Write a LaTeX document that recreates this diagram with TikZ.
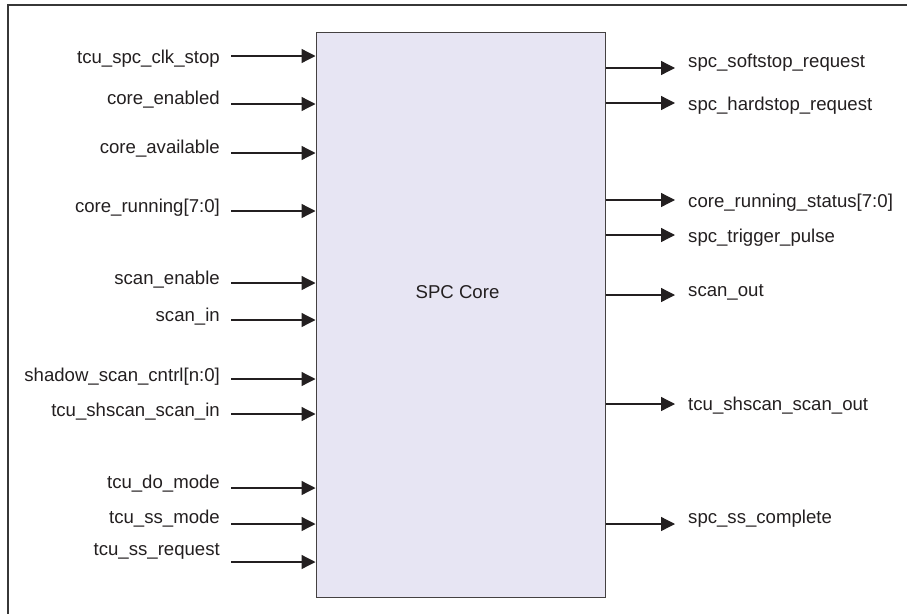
\documentclass[tikz,border=0pt]{standalone}
\usepackage{fontspec}
\setmainfont{Liberation Sans}
\usetikzlibrary{arrows.meta,positioning}
\definecolor{corefill}{RGB}{231,229,243}
\definecolor{linecolor}{RGB}{35,31,32}
\definecolor{framecolor}{RGB}{55,55,55}
\tikzset{
sigtext/.style={
  inner sep=0pt,
  font=\fontsize{18.6}{22}\selectfont,
  text=linecolor
},
inlabel/.style={
  sigtext,
  anchor=east
},
outlabel/.style={
  sigtext,
  anchor=west
},
corebox/.style={
  draw=linecolor!85,
  fill=corefill,
  line width=1pt,
  minimum width=289pt,
  minimum height=565pt,
  inner sep=0pt
},
sigarrow/.style={
  -{Triangle[length=14pt,width=14pt]},
  line width=1.3pt,
  draw=linecolor
},
frameline/.style={
  draw=framecolor,
  line width=1.6pt
}
}

\begin{document}
\begin{tikzpicture}[x=1pt,y=-1pt]
\useasboundingbox (0,0) rectangle (907,613);
% outer frame, cut off at the right and the bottom
\draw[frameline] (8,625) -- (8,5) -- (920,5);

\node[corebox] (core) at (460.5,314.5) {};
\node[sigtext] (corelabel) at ([xshift=-3pt,yshift=22.5pt]core.center) {SPC Core};

% inputs
\foreach \name/\txt/\yt/\yl in {
  clkstop/tcu\_spc\_clk\_stop/59/56,
  enabled/core\_enabled/100/104,
  avail/core\_available/149/153,
  running/core\_running[7:0]/208/211,
  scanen/scan\_enable/280/283,
  scanin/scan\_in/317/320,
  shadow/shadow\_scan\_cntrl[n:0]/377/379,
  shin/tcu\_shscan\_scan\_in/412/414,
  domode/tcu\_do\_mode/484/488,
  ssmode/tcu\_ss\_mode/519/524,
  ssreq/tcu\_ss\_request/551/562}{
  \node[inlabel] (in-\name) at (220,\yt) {\txt};
  \coordinate (in-\name-start) at (231,\yl);
  \draw[sigarrow] (in-\name-start) -- (in-\name-start -| core.west);
}

% outputs
\foreach \name/\txt/\yt/\yl in {
  softstop/spc\_softstop\_request/63/68,
  hardstop/spc\_hardstop\_request/106/103,
  status/core\_running\_status[7:0]/203/200,
  trigger/spc\_trigger\_pulse/238/235,
  scanout/scan\_out/292/295,
  shout/tcu\_shscan\_scan\_out/406/404,
  sscomp/spc\_ss\_complete/519/524}{
  \coordinate (out-\name-end) at (675,\yl);
  \draw[sigarrow] (out-\name-end -| core.east) -- (out-\name-end);
  \node[outlabel] (out-\name) at (688,\yt) {\txt};
}
\end{tikzpicture}
\end{document}
